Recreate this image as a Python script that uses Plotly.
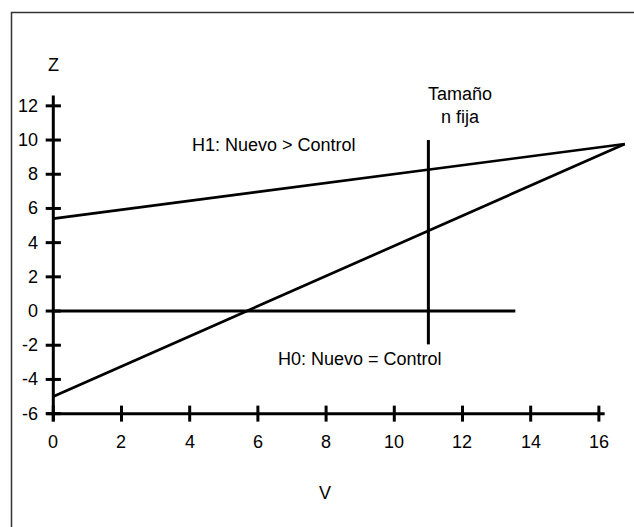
import plotly.graph_objects as go

# Data
x_ticks = [0, 2, 4, 6, 8, 10, 12, 14, 16]
y_ticks = [-6, -4, -2, 0, 2, 4, 6, 8, 10, 12]
h1_x = [0, 16.76]
h1_y = [5.4, 9.77]
h0v_x = [0, 16.76]
h0v_y = [-5.0, 9.77]
zero_x = [0, 13.55]
zero_y = [0, 0]
n_fija_x = [11, 11]
n_fija_y = [-1.95, 10.0]

X_AXIS_Y = -6
XMIN, XMAX = -1.563, 17.03
YMIN, YMAX = -12.63, 18.19
W, H = 634, 527
TICK_X = 8 / (W / (XMAX - XMIN))   # tick half length in data units (horizontal)
TICK_Y = 8 / (H / (YMAX - YMIN))   # vertical

FONT = "Liberation Sans, Arial, sans-serif"

fig = go.Figure()

def seg(xs, ys, width=3):
    fig.add_trace(go.Scatter(x=xs, y=ys, mode="lines",
                             line=dict(color="black", width=width),
                             hoverinfo="skip", showlegend=False))

# axes
seg([0, 0], [-6.45, 12.6])
seg([-0.2, 16.17], [X_AXIS_Y, X_AXIS_Y])
# ticks
for t in y_ticks:
    seg([-TICK_X * 0.95, TICK_X * 0.95], [t, t])
for t in x_ticks:
    seg([t, t], [X_AXIS_Y - TICK_Y, X_AXIS_Y + TICK_Y])

# data lines
seg(h1_x, h1_y, 2.7)
seg(h0v_x, h0v_y, 2.7)
seg(zero_x, zero_y, 3)
seg(n_fija_x, n_fija_y, 3)

ann = []
for t in y_ticks:
    ann.append(dict(x=-0.38, y=t, text=str(t), showarrow=False,
                    xanchor="right", yanchor="middle"))
for t in x_ticks:
    ann.append(dict(x=t, y=-7.65, text=str(t), showarrow=False,
                    xanchor="center", yanchor="middle"))
ann.append(dict(x=0, y=14.4, text="Z", showarrow=False))
ann.append(dict(x=7.97, y=-10.64, text="V", showarrow=False))
ann.append(dict(x=11.93, y=12.0, text="Tamaño<br>n fija", showarrow=False))
ann.append(dict(x=6.47, y=9.7, text="H1: Nuevo > Control", showarrow=False))
ann.append(dict(x=9.0, y=-2.8, text="H0: Nuevo = Control", showarrow=False))
for a in ann:
    a["xref"] = "x"
    a["yref"] = "y"
    a["font"] = dict(family=FONT, size=18, color="black")

fig.update_layout(
    width=W, height=H,
    margin=dict(l=0, r=0, t=0, b=0),
    paper_bgcolor="white", plot_bgcolor="white",
    xaxis=dict(range=[XMIN, XMAX], visible=False, fixedrange=True),
    yaxis=dict(range=[YMIN, YMAX], visible=False, fixedrange=True),
    annotations=ann,
    shapes=[dict(type="rect", xref="paper", yref="paper",
                 x0=11.5 / W, x1=1.05, y0=-0.05, y1=1 - 12.5 / H,
                 line=dict(color="#333333", width=1.5))],
)

fig.write_html("out.html", config={"displayModeBar": False},
               post_script="document.body.style.margin='0';")
